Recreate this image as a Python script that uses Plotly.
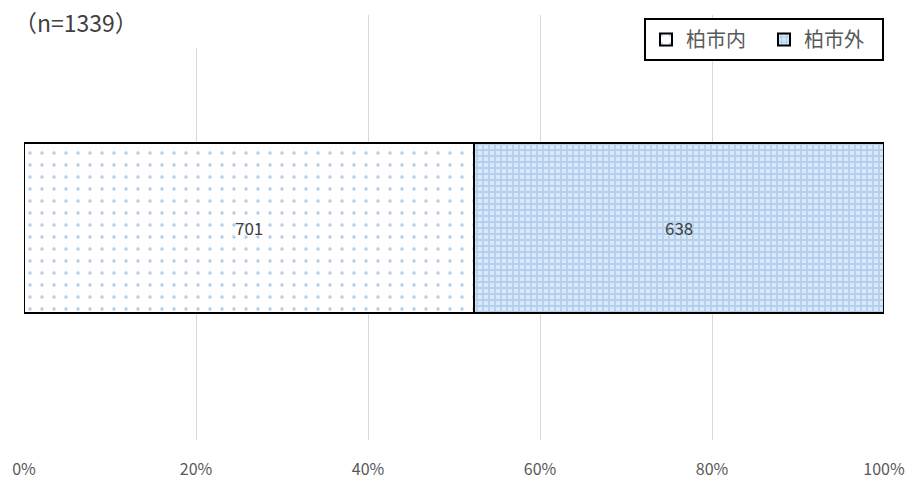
import plotly.graph_objects as go

# Survey respondents split by residence
category = ["回答者"]
series_names = ["柏市内", "柏市外"]
counts = [701, 638]
total = sum(counts)
shares = [c / total * 100 for c in counts]

fills = [
    dict(shape=".", fgcolor="#5b9bd5", bgcolor="white", size=12, solidity=0.06),
    dict(shape="+", fgcolor="#8ab6e6", bgcolor="#dbe8f7", size=6, solidity=0.5),
]

fig = go.Figure()
for name, share, n, pat in zip(series_names, shares, counts, fills):
    fig.add_trace(go.Bar(
        y=category, x=[share], name=name, orientation="h",
        width=0.8,
        marker=dict(color="white", pattern=pat, line=dict(color="black", width=2)),
        text=[str(n)], textposition="inside", insidetextanchor="middle",
        textfont=dict(size=17, color="#404040"),
        hoverinfo="skip",
    ))

fig.update_layout(
    barmode="stack",
    width=917, height=484,
    margin=dict(l=24, r=33, t=15, b=44, autoexpand=False),
    paper_bgcolor="white", plot_bgcolor="white",
    font=dict(family="Noto Sans CJK JP", color="#595959"),
    showlegend=True,
    legend=dict(
        orientation="h", x=1.0, y=0.993, xanchor="right", yanchor="top",
        bordercolor="black", borderwidth=2, bgcolor="white",
        font=dict(size=20, color="#595959"),
        traceorder="normal", entrywidth=73,
    ),
    xaxis=dict(
        range=[0, 100], dtick=20, ticksuffix="%",
        showgrid=True, gridcolor="#d9d9d9", gridwidth=1,
        zeroline=False, showline=False, automargin=False,
        tickfont=dict(size=16, color="#595959"),
        ticklabelstandoff=18,
    ),
    yaxis=dict(range=[-1, 1], showticklabels=False, showgrid=False,
               zeroline=False, automargin=False),
    # white backing behind the sample-size caption
    shapes=[dict(
        type="rect", xref="paper", yref="paper", layer="above",
        x0=-0.03, x1=0.216, y0=0.922, y1=1.05,
        fillcolor="white", line=dict(width=0),
    )],
    annotations=[dict(
        text="（n=1339）", xref="paper", yref="paper", x=0, y=1.0,
        xanchor="left", yanchor="middle", yshift=-7, xshift=-12,
        showarrow=False, font=dict(size=23, color="#404040"),
    )],
)

fig.write_html("out.html")
